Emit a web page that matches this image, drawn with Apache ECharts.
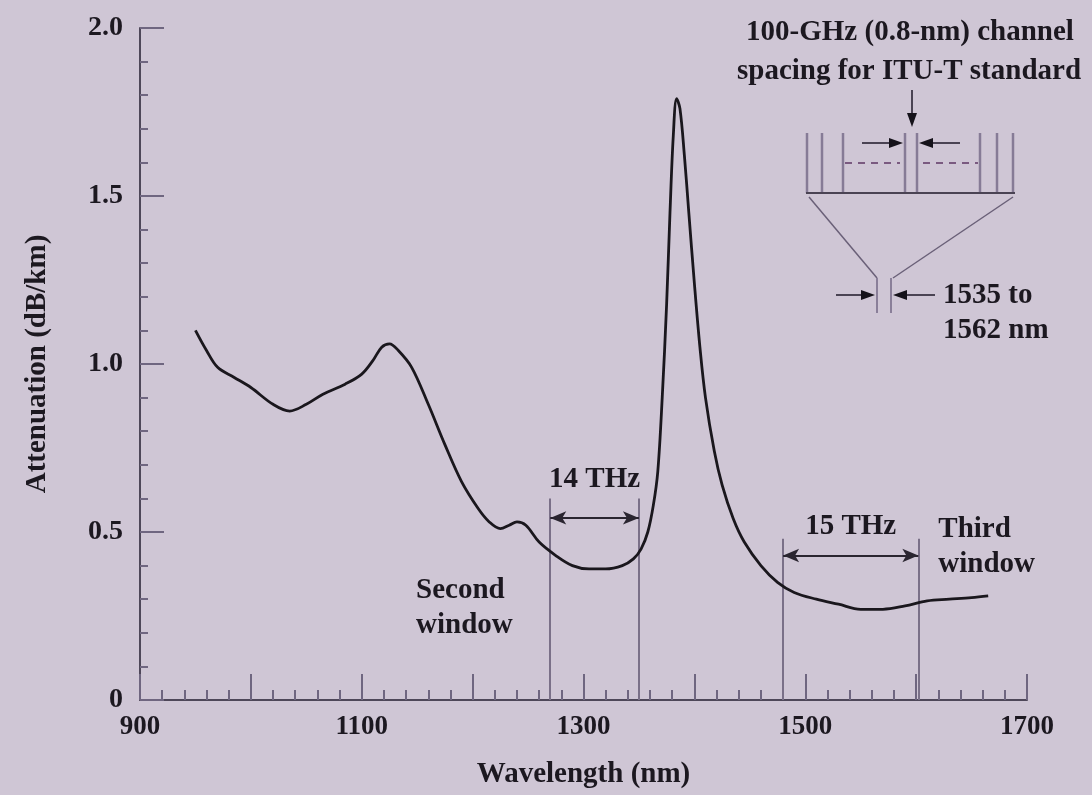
<!DOCTYPE html>
<html><head><meta charset="utf-8">
<script src="https://cdn.jsdelivr.net/npm/echarts@6/dist/echarts.min.js"></script>
<style>html,body{margin:0;padding:0;background:#cfc6d5;} #c{width:1092px;height:795px;}</style>
</head><body><div id="c"></div>
<script>
// ---- data ----
const wavelength = [950,960,970,985,1000,1020,1035,1050,1065,1085,1100,1110,1118,1125,1133,1145,1160,1175,1190,1205,1215,1225,1233,1240,1248,1260,1275,1290,1305,1320,1335,1345,1352,1358,1363,1367,1371,1375,1378,1381,1384,1387,1391,1395,1400,1405,1410,1418,1425,1435,1445,1460,1475,1490,1510,1530,1550,1570,1590,1610,1630,1650,1665];
const attenuation = [1.10,1.04,0.99,0.96,0.93,0.88,0.86,0.88,0.91,0.94,0.97,1.01,1.05,1.06,1.04,0.99,0.88,0.76,0.65,0.57,0.53,0.51,0.52,0.53,0.52,0.47,0.43,0.40,0.39,0.39,0.40,0.42,0.45,0.50,0.58,0.68,0.90,1.18,1.45,1.68,1.79,1.76,1.62,1.45,1.24,1.05,0.90,0.74,0.64,0.54,0.47,0.40,0.35,0.32,0.30,0.285,0.27,0.27,0.28,0.295,0.30,0.305,0.31];
const xLabels = [900,1100,1300,1500,1700];
const secondWindow = [1270,1350];
const thirdWindow = [1480,1602];
const windowTop = [0.60,0.48];
const arrowLevel = [0.542,0.43];
const windowTexts = ['14 THz','15 THz'];

const FONT = '"Liberation Serif", "DejaVu Serif", serif';
const INK = '#1c1820';
const FS = 29;
const chart = echarts.init(document.getElementById('c'));

const vLines = [];
[secondWindow, thirdWindow].forEach((w,i)=>{
  w.forEach(x=>vLines.push([{coord:[x,0]},{coord:[x,windowTop[i]]}]));
});
const arrows = [
  [{coord:[secondWindow[0],arrowLevel[0]]},{coord:[secondWindow[1],arrowLevel[0]]}],
  [{coord:[thirdWindow[0],arrowLevel[1]]},{coord:[thirdWindow[1],arrowLevel[1]]}]
];

chart.setOption({
  backgroundColor:'#cfc6d5',
  animation:false,
  grid:{left:140,right:65,top:28,bottom:95,containLabel:false,outerBoundsMode:'none'},
  xAxis:{type:'value',min:900,max:1700,interval:100,
    name:'Wavelength (nm)',nameLocation:'middle',nameGap:60,
    nameTextStyle:{fontFamily:FONT,fontWeight:'bold',fontSize:FS,color:INK},
    axisLine:{lineStyle:{color:'#4e4759',width:2}},
    axisTick:{inside:true,length:26,lineStyle:{color:'#6f6680',width:2}},
    minorTick:{show:true,splitNumber:5,length:10,lineStyle:{color:'#6f6680',width:2}},
    splitLine:{show:false},
    axisLabel:{margin:14,fontFamily:FONT,fontWeight:'bold',fontSize:27,color:INK,
      formatter:v=>xLabels.indexOf(v)>=0?String(v):''}},
  yAxis:{type:'value',min:0,max:2,interval:0.5,
    name:'Attenuation (dB/km)',nameLocation:'middle',nameGap:88,
    nameTextStyle:{fontFamily:FONT,fontWeight:'bold',fontSize:FS,color:INK},
    axisLine:{show:true,lineStyle:{color:'#4e4759',width:2}},
    axisTick:{show:true,inside:true,length:24,lineStyle:{color:'#6f6680',width:2}},
    minorTick:{show:true,splitNumber:5,length:8,lineStyle:{color:'#6f6680',width:2}},
    splitLine:{show:false},
    axisLabel:{margin:17,fontFamily:FONT,fontWeight:'bold',fontSize:28,color:INK,
      formatter:v=>v===0?'0':v.toFixed(1)}},
  series:[
    {type:'line',data:wavelength.map((w,i)=>[w,attenuation[i]]),smooth:0.35,showSymbol:false,
     lineStyle:{color:'#1a171d',width:2.8},z:5},
    {type:'line',data:[],markLine:{silent:true,symbol:'none',label:{show:false},
      lineStyle:{color:'#7a7088',width:2,type:'solid'},data:vLines}},
    {type:'line',data:[],markLine:{silent:true,symbol:['arrow','arrow'],symbolSize:[10,16],label:{show:false},
      lineStyle:{color:'#2a2530',width:2,type:'solid'},itemStyle:{color:'#1a171d'},data:arrows}}
  ]
});

// ---- annotations ----
const P = (x,y)=>chart.convertToPixel({gridIndex:0},[x,y]);
const txt = (t,x,y,align)=>({type:'text',style:{text:t,x:x,y:y,font:'bold '+FS+'px '+FONT,fill:INK,align:align||'center',verticalAlign:'middle'}});
const g = [];
const p14 = P((secondWindow[0]+secondWindow[1])/2, 0.655);
g.push(txt(windowTexts[0],p14[0],p14[1]));
const p15 = P((thirdWindow[0]+thirdWindow[1])/2, 0.515);
g.push(txt(windowTexts[1],p15[0],p15[1]));
const ps = P(1149,0.327); g.push(txt('Second',ps[0],ps[1],'left'));
const ps2 = P(1149,0.222); g.push(txt('window',ps2[0],ps2[1],'left'));
const pt = P(1620,0.507); g.push(txt('Third',pt[0],pt[1],'left'));
const pt2 = P(1620,0.403); g.push(txt('window',pt2[0],pt2[1],'left'));

// inset diagram (pixel layout)
const LC = '#4a4353';
const line = (x1,y1,x2,y2,c,w,dash)=>({type:'line',shape:{x1,y1,x2,y2},style:{stroke:c||LC,lineWidth:w||2,lineDash:dash||null}});
const head = (x,y,dir)=>{
  let pts;
  if(dir==='r') pts=[[x,y],[x-14,y-5],[x-14,y+5]];
  else if(dir==='l') pts=[[x,y],[x+14,y-5],[x+14,y+5]];
  else pts=[[x,y],[x-5,y-14],[x+5,y-14]];
  return {type:'polygon',shape:{points:pts},style:{fill:'#15121a'}};
};
g.push(txt('100-GHz (0.8-nm) channel',910,33));
g.push(txt('spacing for ITU-T standard',909,72));
g.push(line(912,90,912,122,LC,2)); g.push(head(912,127,'d'));
[807,822,843,905,917,980,997,1013].forEach(x=>g.push(line(x,133,x,193,'#867b96',2.5)));
g.push(line(806,193,1015,193,LC,2));
g.push(line(845,163,900,163,'#7a5a80',2,[7,6]));
g.push(line(923,163,978,163,'#7a5a80',2,[7,6]));
g.push(line(862,143,895,143,LC,2)); g.push(head(903,143,'r'));
g.push(line(960,143,927,143,LC,2)); g.push(head(919,143,'l'));
g.push(line(809,197,877,278,'#6a6078',1.5));
g.push(line(1013,197,893,278,'#6a6078',1.5));
g.push(line(877,278,877,313,'#8a7f99',2));
g.push(line(891,278,891,313,'#8a7f99',2));
g.push(line(836,295,866,295,LC,2)); g.push(head(875,295,'r'));
g.push(line(935,295,902,295,LC,2)); g.push(head(893,295,'l'));
g.push(txt('1535 to',943,296,'left'));
g.push(txt('1562 nm',943,331,'left'));

chart.setOption({graphic:g});
</script></body></html>
